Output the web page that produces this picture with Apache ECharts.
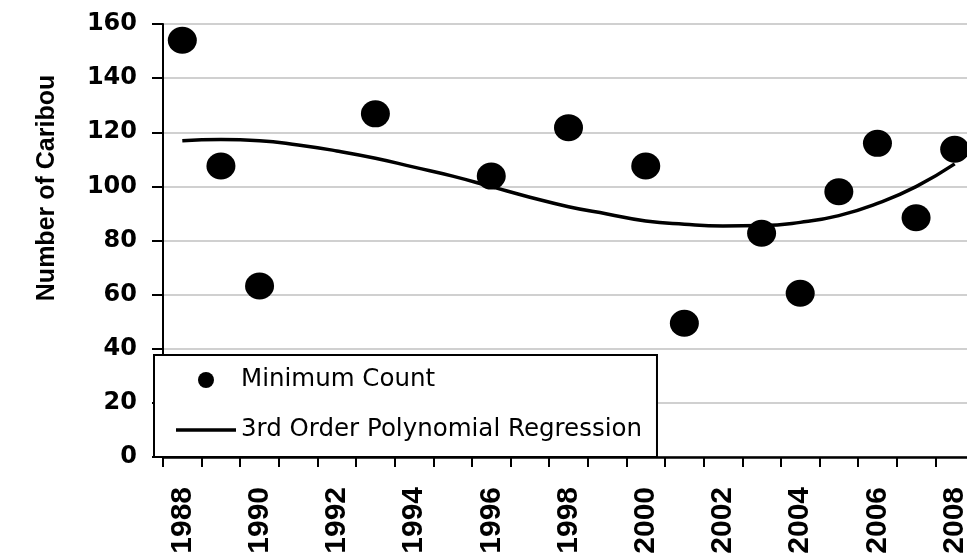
<!DOCTYPE html>
<html>
<head>
<meta charset="utf-8">
<script src="https://cdn.jsdelivr.net/npm/echarts@6/dist/echarts.min.js"></script>
<style>
html,body{margin:0;padding:0;background:#fff;}
#chart{width:967px;height:555px;}
</style>
</head>
<body>
<div id="chart"></div>
<script>
const years = ['1988','1989','1990','1991','1992','1993','1994','1995','1996','1997','1998',
               '1999','2000','2001','2002','2003','2004','2005','2006','2007','2008'];
const countYears = ['1988','1989','1990','1993','1996','1998','2000','2001','2003','2004','2005','2006','2007','2008'];
const countValues = [154, 107.5, 63.2, 126.8, 103.8, 121.7, 107.5, 49.4, 82.7, 60.5, 98, 115.9, 88.4, 113.7];
const trendValues = [116.9, 117.3, 116.9, 115.3, 113.1, 110.4, 107.1, 103.8, 99.9, 96.0, 92.5,
                     89.8, 87.2, 86.0, 85.4, 85.5, 86.7, 89.2, 93.7, 99.9, 108.3];
const seriesNames = ['Minimum Count', '3rd Order Polynomial Regression'];
const yAxisTitle = 'Number of Caribou';

const chart = echarts.init(document.getElementById('chart'), null, {renderer: 'canvas'});
const scatterData = countYears.map((y, i) => [y, countValues[i]]);

chart.setOption({
  animation: false,
  backgroundColor: '#fff',
  grid: {left: 163, right: -7, top: 24, bottom: 98, containLabel: false, outerBoundsMode: 'none'},
  xAxis: {
    type: 'category',
    data: years,
    boundaryGap: true,
    axisLine: {show: true, lineStyle: {color: '#000', width: 2.5}},
    axisTick: {show: true, interval: 0, length: 10, lineStyle: {color: '#000', width: 2}},
    axisLabel: {
      interval: 1, rotate: 90, margin: 30, color: '#000',
      fontFamily: '"Liberation Sans", Arial, sans-serif', fontWeight: 'bold', fontSize: 30
    },
    splitLine: {show: false}
  },
  yAxis: {
    type: 'value', min: 0, max: 160, interval: 20,
    axisLine: {show: true, lineStyle: {color: '#000', width: 2}},
    axisTick: {show: true, length: 11, lineStyle: {color: '#000', width: 2}},
    axisLabel: {
      margin: 26, color: '#000',
      fontFamily: '"DejaVu Sans", sans-serif', fontWeight: 'bold', fontSize: 24
    },
    splitLine: {show: true, lineStyle: {color: '#c0c0c0', width: 1.5}}
  },
  legend: {
    orient: 'vertical',
    left: 154, top: 355,
    padding: [10, 15, 12, 22],
    itemWidth: 60, itemHeight: 16, itemGap: 20,
    backgroundColor: '#fff',
    borderColor: '#000', borderWidth: 2,
    textStyle: {color: '#000', fontFamily: '"DejaVu Sans", sans-serif', fontSize: 24.5, lineHeight: 30},
    data: [
      {name: seriesNames[0], icon: 'circle', itemStyle: {color: '#000', opacity: 1}},
      {name: seriesNames[1], icon: 'path://M0,0L0,0ZM0,6.3L60,6.3L60,9.7L0,9.7ZM60,16L60,16Z',
       itemStyle: {color: '#000', borderWidth: 0}}
    ]
  },
  graphic: [{
    type: 'text', x: 47, y: 188, rotation: Math.PI / 2,
    style: {
      text: yAxisTitle, fill: '#000',
      font: 'bold 25px "Liberation Sans", Arial, sans-serif',
      align: 'center', verticalAlign: 'middle'
    }
  }],
  series: [
    {
      name: seriesNames[1], type: 'line', data: trendValues, smooth: true,
      symbol: 'none', showSymbol: false, z: 2,
      lineStyle: {color: '#000', width: 3.5},
      itemStyle: {color: '#000'}
    },
    {
      name: seriesNames[0], type: 'scatter', data: scatterData, z: 3,
      symbol: 'circle', symbolSize: [29, 27],
      itemStyle: {color: '#000', opacity: 1}
    }
  ]
});
</script>
</body>
</html>
